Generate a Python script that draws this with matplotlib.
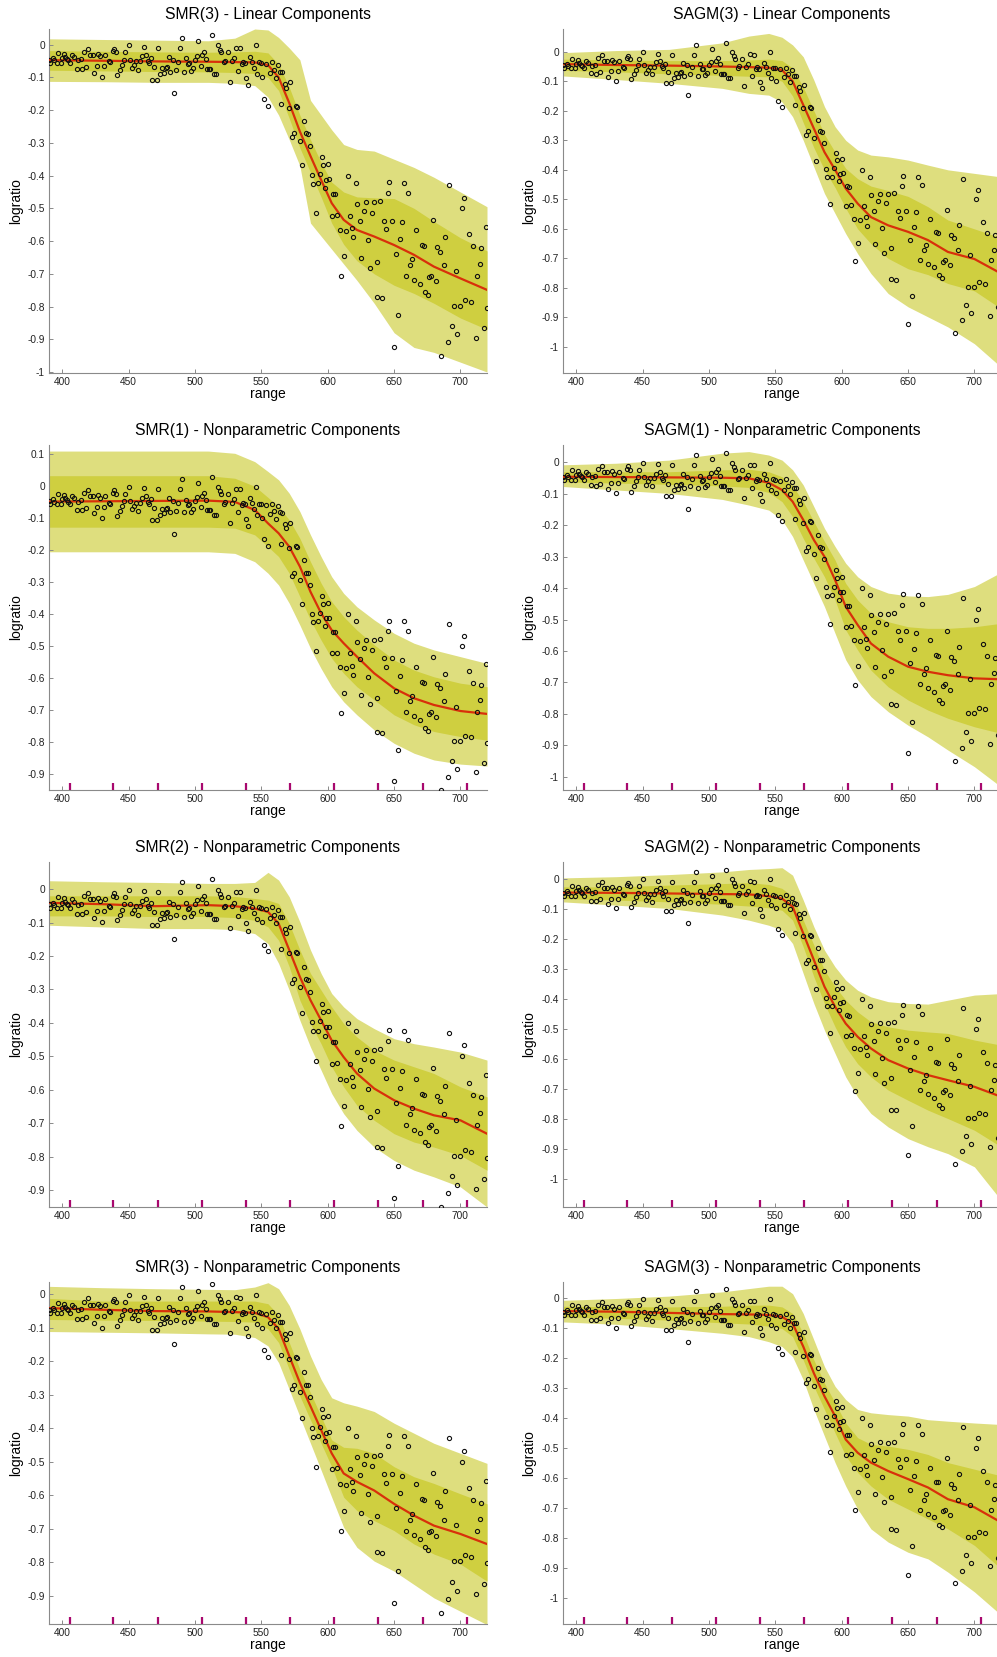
import numpy as np
import matplotlib
matplotlib.use("Agg")
import matplotlib.pyplot as plt

plt.rcParams["font.family"] = ["Liberation Sans", "DejaVu Sans"]

range_pts = [390, 390.7, 392.7, 394.0, 395.7, 397.0, 399.0, 400.0, 401.5, 402.3, 403.3, 404.5, 405.8, 407.6, 408.8,
             410.8, 411.8, 413.9, 414.9, 416.6, 417.9, 419.6, 420.9, 422.9, 424.2, 425.9, 427.0, 428.5, 429.7, 431.5,
             432.5, 435.0, 436.3, 438.3, 439.0, 440.8, 441.6, 443.6, 444.8, 446.6, 447.6, 450.1, 451.1, 452.9, 453.9,
             455.7, 456.9, 458.9, 460.2, 461.7, 463.0, 464.5, 465.5, 466.5, 467.5, 468.8, 471.0, 472.0, 473.6, 474.8,
             476.3, 478.1, 478.8, 480.1, 481.4, 483.1, 483.9, 485.9, 487.2, 488.9, 490.2, 491.4, 493.2, 494.7, 495.7,
             497.2, 498.5, 500.3, 501.5, 502.3, 504.3, 505.5, 506.6, 508.3, 509.1, 510.6, 511.6, 513.1, 514.4, 516.1,
             517.1, 518.6, 519.7, 521.9, 522.7, 525.2, 526.2, 527.5, 529.2, 530.7, 532.2, 534.0, 535.3, 536.5, 537.3,
             538.3, 540.1, 541.3, 542.6, 544.3, 545.6, 546.9, 548.1, 549.4, 550.6, 552.1, 553.4, 555.2, 556.2, 558.2,
             559.5, 561.0, 562.5, 564.0, 564.5, 565.3, 567.5, 568.5, 570.5, 571.3, 573.3, 574.6, 576.1, 577.1, 579.4,
             580.4, 582.1, 583.4, 585.1, 586.4, 588.4, 589.2, 591.2, 592.7, 594.2, 595.5, 596.5, 597.7, 599.0, 600.5,
             601.0, 603.0, 604.3, 605.6, 607.3, 609.3, 610.3, 612.4, 613.6, 615.6, 616.6, 618.6, 619.4, 621.4, 622.4,
             624.4, 625.2, 627.5, 628.5, 630.5, 631.5, 633.3, 634.5, 636.8, 637.3, 639.3, 640.6, 642.6, 643.8, 645.1,
             646.4, 648.4, 649.6, 651.7, 652.7, 654.7, 655.7, 657.7, 659.0, 660.7, 661.7, 663.2, 665.0, 666.5, 669.8,
             670.8, 672.3, 673.6, 675.6, 676.6, 677.8, 679.6, 681.4, 682.6, 684.4, 685.7, 687.4, 688.7, 690.4, 691.7,
             693.5, 695.0, 697.0, 697.7, 700.0, 701.3, 703.0, 703.8, 706.6, 708.3, 709.8, 711.8, 712.6, 714.6, 715.6,
             717.4, 718.9, 720.0]
logratio_pts = [-0.046, -0.056, -0.041, -0.048, -0.056, -0.025, -0.056, -0.041, -0.028, -0.038, -0.044, -0.048, -0.056,
                -0.031, -0.038, -0.073, -0.048, -0.044, -0.074, -0.022, -0.068, -0.012, -0.031, -0.031, -0.085, -0.066,
                -0.028, -0.036, -0.099, -0.066, -0.031, -0.051, -0.054, -0.020, -0.013, -0.023, -0.093, -0.076, -0.061,
                -0.046, -0.023, -0.002, -0.046, -0.071, -0.061, -0.051, -0.076, -0.051, -0.036, -0.007, -0.031, -0.049,
                -0.056, -0.041, -0.107, -0.068, -0.107, -0.010, -0.089, -0.071, -0.085, -0.071, -0.068, -0.038, -0.082,
                -0.046, -0.148, -0.076, -0.053, -0.010, 0.022, -0.082, -0.042, -0.058, -0.057, -0.080, -0.071, -0.046,
                -0.034, 0.010, -0.064, -0.031, -0.022, -0.043, -0.074, -0.074, -0.074, 0.030, -0.089, -0.089, -0.002,
                -0.015, -0.023, -0.054, -0.049, -0.023, -0.115, -0.051, -0.041, -0.009, -0.081, -0.010, -0.059, -0.053,
                -0.057, -0.101, -0.124, -0.038, -0.052, -0.071, -0.002, -0.089, -0.054, -0.056, -0.099, -0.166, -0.060,
                -0.186, -0.087, -0.054, -0.076, -0.101, -0.063, -0.082, -0.180, -0.083, -0.119, -0.132, -0.192, -0.114,
                -0.282, -0.270, -0.187, -0.191, -0.293, -0.369, -0.232, -0.270, -0.272, -0.308, -0.398, -0.425, -0.515,
                -0.423, -0.395, -0.344, -0.367, -0.438, -0.413, -0.364, -0.411, -0.523, -0.456, -0.457, -0.520, -0.566,
                -0.708, -0.647, -0.569, -0.400, -0.523, -0.561, -0.589, -0.423, -0.486, -0.540, -0.652, -0.507, -0.481,
                -0.598, -0.681, -0.513, -0.482, -0.663, -0.770, -0.479, -0.773, -0.538, -0.564, -0.454, -0.420, -0.538,
                -0.923, -0.639, -0.826, -0.594, -0.543, -0.423, -0.706, -0.452, -0.673, -0.655, -0.719, -0.566, -0.730,
                -0.612, -0.615, -0.756, -0.765, -0.711, -0.706, -0.535, -0.723, -0.619, -0.632, -0.951, -0.673, -0.588,
                -0.909, -0.430, -0.858, -0.798, -0.690, -0.885, -0.798, -0.500, -0.467, -0.780, -0.578, -0.785, -0.615,
                -0.895, -0.706, -0.670, -0.622, -0.866, -0.557, -0.803]

knots = [405.5, 438.5, 472, 505, 538.5, 571.5, 605, 638, 671.5, 705]

# fitted curves and bands, sampled at these ranges
band_x = [390, 430, 470, 510, 530, 545, 555, 563, 571, 579, 587, 595, 603, 612, 622, 635, 650, 665, 680, 700, 720]

smr3_lin_mean = [-.047, -.049, -.051, -.052, -.053, -.054, -.062, -.100, -.178, -.265, -.340, -.413, -.484, -.535, -.566, -.586, -.612, -.642, -.678, -.714, -.749]
smr3_lin_in_hi = [-.018, -.020, -.022, -.023, -.022, -.020, -.025, -.060, -.130, -.215, -.290, -.360, -.420, -.450, -.465, -.468, -.470, -.500, -.540, -.590, -.630]
smr3_lin_in_lo = [-.078, -.080, -.082, -.083, -.085, -.088, -.100, -.140, -.225, -.315, -.390, -.465, -.545, -.610, -.660, -.700, -.735, -.760, -.790, -.835, -.870]
smr3_lin_out_hi = [.018, .016, .014, .012, .020, .048, .045, .022, -.010, -.046, -.170, -.215, -.260, -.305, -.320, -.325, -.350, -.375, -.405, -.450, -.495]
smr3_lin_out_lo = [-.112, -.113, -.115, -.115, -.118, -.125, -.160, -.215, -.290, -.370, -.545, -.585, -.625, -.670, -.720, -.790, -.880, -.925, -.940, -.970, -1.0]

sagm3_lin_mean = [-.042, -.045, -.047, -.050, -.052, -.054, -.062, -.100, -.180, -.260, -.340, -.400, -.463, -.514, -.560, -.588, -.610, -.638, -.678, -.702, -.751]
sagm3_lin_in_hi = [-.025, -.028, -.030, -.030, -.028, -.025, -.030, -.055, -.120, -.200, -.280, -.340, -.395, -.430, -.455, -.470, -.490, -.525, -.570, -.600, -.630]
sagm3_lin_in_lo = [-.063, -.068, -.075, -.080, -.083, -.085, -.100, -.150, -.240, -.325, -.400, -.460, -.530, -.600, -.650, -.700, -.735, -.755, -.785, -.810, -.870]
sagm3_lin_out_hi = [-.003, .004, .008, .030, .053, .062, .049, .023, -.017, -.096, -.186, -.254, -.300, -.333, -.350, -.356, -.367, -.384, -.400, -.412, -.424]
sagm3_lin_out_lo = [-.082, -.094, -.107, -.124, -.141, -.147, -.170, -.220, -.300, -.390, -.480, -.548, -.616, -.684, -.751, -.819, -.864, -.898, -.932, -.989, -1.068]

smr1_np_mean = [-.048, -.047, -.046, -.045, -.049, -.074, -.116, -.147, -.189, -.251, -.330, -.397, -.450, -.491, -.533, -.585, -.632, -.663, -.684, -.703, -.712]
smr1_np_in_hi = [.033, .033, .033, .033, .025, .000, -.035, -.064, -.105, -.163, -.236, -.303, -.361, -.408, -.450, -.496, -.543, -.575, -.596, -.616, -.627]
smr1_np_in_lo = [-.128, -.128, -.128, -.128, -.131, -.152, -.189, -.220, -.272, -.345, -.418, -.481, -.538, -.585, -.627, -.668, -.715, -.746, -.767, -.783, -.794]
smr1_np_out_hi = [.110, .110, .110, .110, .103, .077, .046, .020, -.022, -.079, -.152, -.220, -.283, -.335, -.377, -.418, -.460, -.491, -.512, -.533, -.554]
smr1_np_out_lo = [-.205, -.205, -.205, -.205, -.210, -.236, -.272, -.309, -.366, -.434, -.507, -.570, -.627, -.674, -.715, -.762, -.804, -.835, -.856, -.869, -.875]

sagm1_np_mean = [-.046, -.047, -.048, -.049, -.051, -.065, -.088, -.125, -.183, -.247, -.300, -.374, -.459, -.517, -.576, -.618, -.650, -.666, -.677, -.687, -.690]
sagm1_np_in_hi = [-.030, -.030, -.030, -.024, -.022, -.030, -.046, -.075, -.125, -.189, -.252, -.311, -.385, -.438, -.480, -.507, -.523, -.528, -.528, -.523, -.512]
sagm1_np_in_lo = [-.062, -.066, -.070, -.075, -.080, -.096, -.125, -.173, -.242, -.305, -.364, -.438, -.533, -.597, -.661, -.714, -.756, -.788, -.814, -.841, -.862]
sagm1_np_out_hi = [-.008, -.003, .007, .029, .034, .023, .007, -.024, -.072, -.141, -.210, -.268, -.321, -.364, -.395, -.416, -.425, -.427, -.420, -.395, -.350]
sagm1_np_out_lo = [-.077, -.088, -.099, -.118, -.136, -.152, -.183, -.236, -.311, -.385, -.459, -.544, -.628, -.692, -.745, -.793, -.836, -.873, -.915, -.968, -1.032]

smr2_np_mean = [-.041, -.045, -.051, -.048, -.051, -.058, -.068, -.103, -.182, -.262, -.332, -.392, -.452, -.502, -.551, -.596, -.631, -.656, -.676, -.691, -.731]
smr2_np_in_hi = [-.020, -.020, -.020, -.020, -.022, -.028, -.033, -.043, -.103, -.182, -.252, -.302, -.352, -.402, -.442, -.482, -.511, -.531, -.551, -.591, -.621]
smr2_np_in_lo = [-.080, -.080, -.082, -.082, -.085, -.093, -.113, -.153, -.232, -.332, -.402, -.462, -.531, -.591, -.646, -.691, -.731, -.756, -.771, -.796, -.840]
smr2_np_out_hi = [.025, .022, .020, .017, .017, .020, .050, .027, -.023, -.098, -.182, -.252, -.312, -.352, -.387, -.417, -.447, -.462, -.472, -.487, -.511]
smr2_np_out_lo = [-.108, -.113, -.118, -.118, -.121, -.133, -.163, -.222, -.302, -.392, -.472, -.541, -.611, -.671, -.721, -.771, -.811, -.840, -.860, -.890, -.950]

sagm2_np_mean = [-.046, -.047, -.049, -.051, -.052, -.058, -.066, -.093, -.182, -.271, -.360, -.427, -.483, -.527, -.566, -.605, -.633, -.655, -.672, -.694, -.727]
sagm2_np_in_hi = [-.027, -.027, -.021, -.016, -.013, -.019, -.032, -.060, -.138, -.221, -.305, -.360, -.405, -.444, -.477, -.494, -.505, -.511, -.516, -.538, -.555]
sagm2_np_in_lo = [-.066, -.071, -.077, -.085, -.091, -.097, -.105, -.138, -.227, -.327, -.416, -.494, -.561, -.617, -.661, -.705, -.739, -.772, -.800, -.839, -.894]
sagm2_np_out_hi = [.003, .007, .014, .023, .031, .034, .037, .012, -.071, -.160, -.238, -.294, -.338, -.372, -.394, -.410, -.416, -.418, -.405, -.388, -.383]
sagm2_np_out_lo = [-.077, -.088, -.099, -.121, -.138, -.155, -.171, -.216, -.316, -.416, -.505, -.583, -.661, -.728, -.783, -.828, -.867, -.894, -.917, -.961, -1.072]

smr3_np_mean = [-.041, -.046, -.050, -.051, -.053, -.055, -.068, -.103, -.184, -.264, -.334, -.405, -.475, -.535, -.560, -.586, -.626, -.661, -.691, -.716, -.746]
smr3_np_in_hi = [-.012, -.020, -.020, -.020, -.020, -.020, -.028, -.063, -.144, -.224, -.294, -.365, -.435, -.457, -.460, -.475, -.515, -.545, -.565, -.596, -.626]
smr3_np_in_lo = [-.075, -.077, -.078, -.080, -.081, -.083, -.103, -.144, -.224, -.304, -.375, -.445, -.515, -.606, -.646, -.676, -.706, -.746, -.776, -.806, -.857]
smr3_np_out_hi = [.024, .020, .017, .015, .014, .022, .035, .017, -.033, -.103, -.184, -.254, -.309, -.324, -.334, -.350, -.385, -.415, -.445, -.475, -.505]
smr3_np_out_lo = [-.111, -.113, -.115, -.118, -.119, -.129, -.154, -.204, -.284, -.365, -.445, -.525, -.606, -.696, -.756, -.797, -.827, -.867, -.907, -.947, -.987]

sagm3_np_mean = [-.044, -.046, -.050, -.054, -.055, -.057, -.063, -.085, -.162, -.251, -.328, -.394, -.472, -.516, -.549, -.577, -.604, -.632, -.671, -.698, -.748]
sagm3_np_in_hi = [-.028, -.029, -.030, -.028, -.024, -.024, -.030, -.052, -.118, -.207, -.284, -.350, -.417, -.466, -.488, -.494, -.505, -.522, -.549, -.571, -.593]
sagm3_np_in_lo = [-.063, -.068, -.074, -.083, -.087, -.094, -.102, -.129, -.207, -.295, -.372, -.450, -.527, -.582, -.627, -.671, -.704, -.737, -.770, -.825, -.903]
sagm3_np_out_hi = [-.008, -.002, .006, .020, .031, .039, .039, .014, -.052, -.140, -.229, -.295, -.339, -.372, -.383, -.389, -.394, -.406, -.411, -.417, -.422]
sagm3_np_out_lo = [-.080, -.088, -.102, -.118, -.129, -.146, -.162, -.196, -.273, -.372, -.461, -.549, -.627, -.704, -.770, -.814, -.848, -.870, -.914, -.980, -1.057]

OUTER = "#dede7e"
INNER = "#cfcf40"
RED = "#d8300a"
GRAY = "#8a8a8a"
W, H = 997, 1657

panels = [
    # row, col, title, curves, ylim, yticks, show knots
    (0, 0, "SMR(3) - Linear Components",
     (smr3_lin_mean, smr3_lin_in_lo, smr3_lin_in_hi, smr3_lin_out_lo, smr3_lin_out_hi), (-1.003, 0.048), (-1.0, 0.0), False),
    (0, 1, "SAGM(3) - Linear Components",
     (sagm3_lin_mean, sagm3_lin_in_lo, sagm3_lin_in_hi, sagm3_lin_out_lo, sagm3_lin_out_hi), (-1.088, 0.077), (-1.0, 0.0), False),
    (1, 0, "SMR(1) - Nonparametric Components",
     (smr1_np_mean, smr1_np_in_lo, smr1_np_in_hi, smr1_np_out_lo, smr1_np_out_hi), (-0.95, 0.129), (-0.9, 0.1), True),
    (1, 1, "SAGM(1) - Nonparametric Components",
     (sagm1_np_mean, sagm1_np_in_lo, sagm1_np_in_hi, sagm1_np_out_lo, sagm1_np_out_hi), (-1.042, 0.055), (-1.0, 0.0), True),
    (2, 0, "SMR(2) - Nonparametric Components",
     (smr2_np_mean, smr2_np_in_lo, smr2_np_in_hi, smr2_np_out_lo, smr2_np_out_hi), (-0.95, 0.081), (-0.9, 0.0), True),
    (2, 1, "SAGM(2) - Nonparametric Components",
     (sagm2_np_mean, sagm2_np_in_lo, sagm2_np_in_hi, sagm2_np_out_lo, sagm2_np_out_hi), (-1.095, 0.056), (-1.0, 0.0), True),
    (3, 0, "SMR(3) - Nonparametric Components",
     (smr3_np_mean, smr3_np_in_lo, smr3_np_in_hi, smr3_np_out_lo, smr3_np_out_hi), (-0.985, 0.037), (-0.9, 0.0), True),
    (3, 1, "SAGM(3) - Nonparametric Components",
     (sagm3_np_mean, sagm3_np_in_lo, sagm3_np_in_hi, sagm3_np_out_lo, sagm3_np_out_hi), (-1.087, 0.053), (-1.0, 0.0), True),
]

row_span = [(29, 373), (445, 790), (862, 1207), (1282, 1624)]
col_left = [49, 563]
ax_w = 438

fig = plt.figure(figsize=(W / 100, H / 100), dpi=100)

for row, col, title, curves, ylim, ytick_range, show_knots in panels:
    top, bottom = row_span[row]
    ax = fig.add_axes([col_left[col] / W, 1 - bottom / H, ax_w / W, (bottom - top) / H])
    mean, in_lo, in_hi, out_lo, out_hi = curves

    ax.fill_between(band_x, out_lo, out_hi, color=OUTER, lw=0, zorder=1)
    ax.fill_between(band_x, in_lo, in_hi, color=INNER, lw=0, zorder=2)
    ax.plot(band_x, mean, color=RED, lw=1.6, zorder=3)
    ax.plot(range_pts, logratio_pts, "o", ms=3.0, mfc="none", mec="#111111", mew=0.8, zorder=4)

    if show_knots:
        ax.vlines(knots, 0, 7 / (bottom - top), transform=ax.get_xaxis_transform(),
                  color="#a8086e", lw=1.6, zorder=5)

    ax.set_xlim(390, 720)
    ax.set_ylim(*ylim)
    lo, hi = ytick_range
    yt = np.round(np.arange(lo, hi + 0.001, 0.1), 1)
    ax.set_yticks(yt)
    ax.set_yticklabels([f"{t:g}" if t != 0 else "0" for t in yt])
    ax.set_xticks([400, 450, 500, 550, 600, 650, 700])

    for side in ("top", "right"):
        ax.spines[side].set_visible(False)
    for side in ("left", "bottom"):
        ax.spines[side].set_color(GRAY)
        ax.spines[side].set_linewidth(0.8)
    ax.tick_params(direction="in", length=3, width=0.7, color=GRAY, labelsize=7.3,
                   labelcolor="#222222", pad=3)

    ax.set_title(title, fontsize=11.3, pad=7)
    ax.set_xlabel("range", fontsize=10)
    ax.set_ylabel("logratio", fontsize=10)
    ax.xaxis.set_label_coords(0.5, -0.042)
    ax.yaxis.set_label_coords(-0.058 if col == 0 else -0.062, 0.5)

fig.savefig("out.png", dpi=100)
